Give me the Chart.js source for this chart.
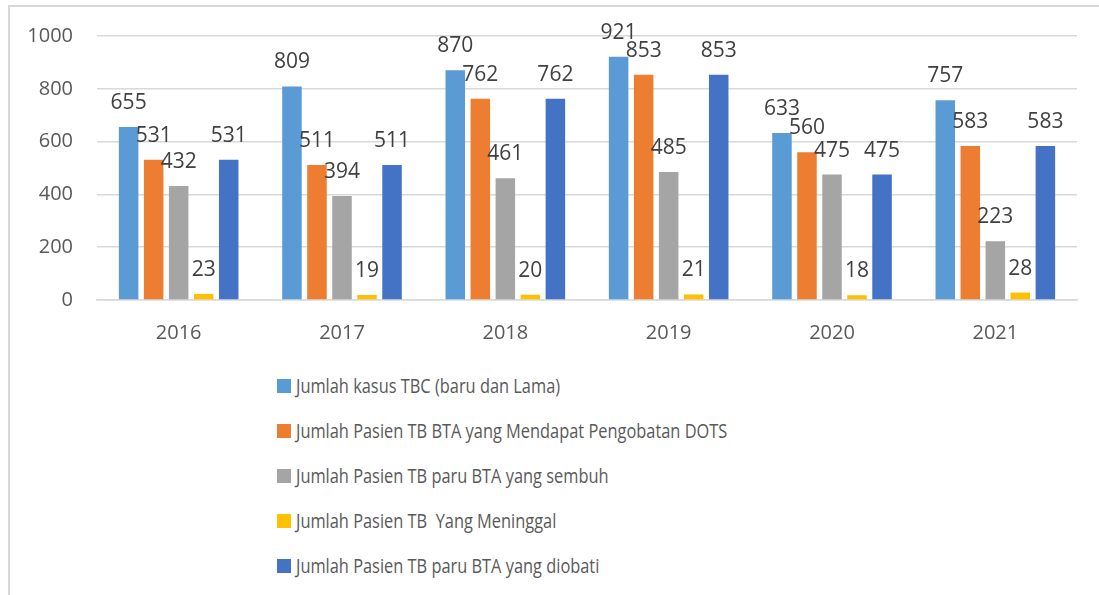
<!DOCTYPE html>
<html>
<head>
<meta charset="utf-8">
<script src="https://cdn.jsdelivr.net/npm/chart.js@4"></script>
<style>
  body { margin: 0; background: #fff; overflow: hidden; }
  #frame {
    position: absolute; left: 8px; top: 5px; width: 1200px; height: 700px;
    border-left: 2px solid #d9d9d9; border-top: 2px solid #d9d9d9;
  }
  #wrap { position: absolute; left: 0; top: 0; width: 1099px; height: 350px; }
  #legend { position: absolute; left: 277px; top: 363px; font-family: "Open Sans", sans-serif; font-size: 19.5px; color: #595959; }
  .item { height: 45px; display: flex; align-items: center; white-space: pre; }
  .box { width: 14px; height: 14px; margin-right: 5px; flex: none; }
  .txt { display: inline-block; transform: scaleX(0.84); transform-origin: left center; }
</style>
</head>
<body>
<div id="frame"></div>
<div id="wrap"><canvas id="tbChart"></canvas></div>
<div id="legend"></div>
<script>
  const years = ["2016", "2017", "2018", "2019", "2020", "2021"];

  const seriesNames = [
    "Jumlah kasus TBC (baru dan Lama)",
    "Jumlah Pasien TB BTA yang Mendapat Pengobatan DOTS",
    "Jumlah Pasien TB paru BTA yang sembuh",
    "Jumlah Pasien TB  Yang Meninggal",
    "Jumlah Pasien TB paru BTA yang diobati"
  ];

  const kasusTBC = [655, 809, 870, 921, 633, 757];
  const pengobatanDOTS = [531, 511, 762, 853, 560, 583];
  const sembuh = [432, 394, 461, 485, 475, 223];
  const meninggal = [23, 19, 20, 21, 18, 28];
  const diobati = [531, 511, 762, 853, 475, 583];

  const colors = ["#5B9BD5", "#ED7D31", "#A5A5A5", "#FFC000", "#4472C4"];
  const allSeries = [kasusTBC, pengobatanDOTS, sembuh, meninggal, diobati];

  // value labels above each bar
  const barLabels = {
    id: "barLabels",
    afterDatasetsDraw(chart) {
      const ctx = chart.ctx;
      ctx.save();
      ctx.font = "21px 'Open Sans', sans-serif";
      ctx.fillStyle = "#404040";
      ctx.textAlign = "center";
      ctx.textBaseline = "middle";
      chart.data.datasets.forEach((ds, i) => {
        chart.getDatasetMeta(i).data.forEach((bar, j) => {
          ctx.fillText(ds.data[j], bar.x, bar.y - 24);
        });
      });
      ctx.restore();
    }
  };

  const tbChart = new Chart(document.getElementById("tbChart"), {
    type: "bar",
    data: {
      labels: years,
      datasets: allSeries.map((values, i) => ({
        label: seriesNames[i],
        data: values,
        backgroundColor: colors[i],
        categoryPercentage: 0.766,
        barPercentage: 0.78
      }))
    },
    options: {
      responsive: true,
      maintainAspectRatio: false,
      animation: false,
      layout: { padding: { left: 0, right: 22, top: 35, bottom: 0 } },
      plugins: {
        legend: { display: false },
        tooltip: { enabled: false }
      },
      scales: {
        x: {
          grid: { display: false, drawTicks: false },
          border: { color: "#d9d9d9", width: 1.5 },
          ticks: { color: "#595959", font: { family: "Open Sans", size: 20 }, padding: 21 },
          afterFit(scale) { scale.height = 50; }
        },
        y: {
          min: 0,
          max: 1000,
          ticks: {
            stepSize: 200,
            color: "#595959",
            font: { family: "Open Sans", size: 20 },
            padding: 24,
            callback: v => String(v)
          },
          grid: { color: "#d9d9d9", lineWidth: 1.5, drawTicks: false },
          border: { display: false },
          afterFit(scale) { scale.width = 97; }
        }
      }
    },
    plugins: [barLabels]
  });

  // legend as a plain list under the chart
  const legend = document.getElementById("legend");
  tbChart.data.datasets.forEach(ds => {
    const row = document.createElement("div");
    row.className = "item";
    const box = document.createElement("span");
    box.className = "box";
    box.style.background = ds.backgroundColor;
    const text = document.createElement("span");
    text.className = "txt";
    text.textContent = ds.label;
    row.appendChild(box);
    row.appendChild(text);
    legend.appendChild(row);
  });
</script>
</body>
</html>
